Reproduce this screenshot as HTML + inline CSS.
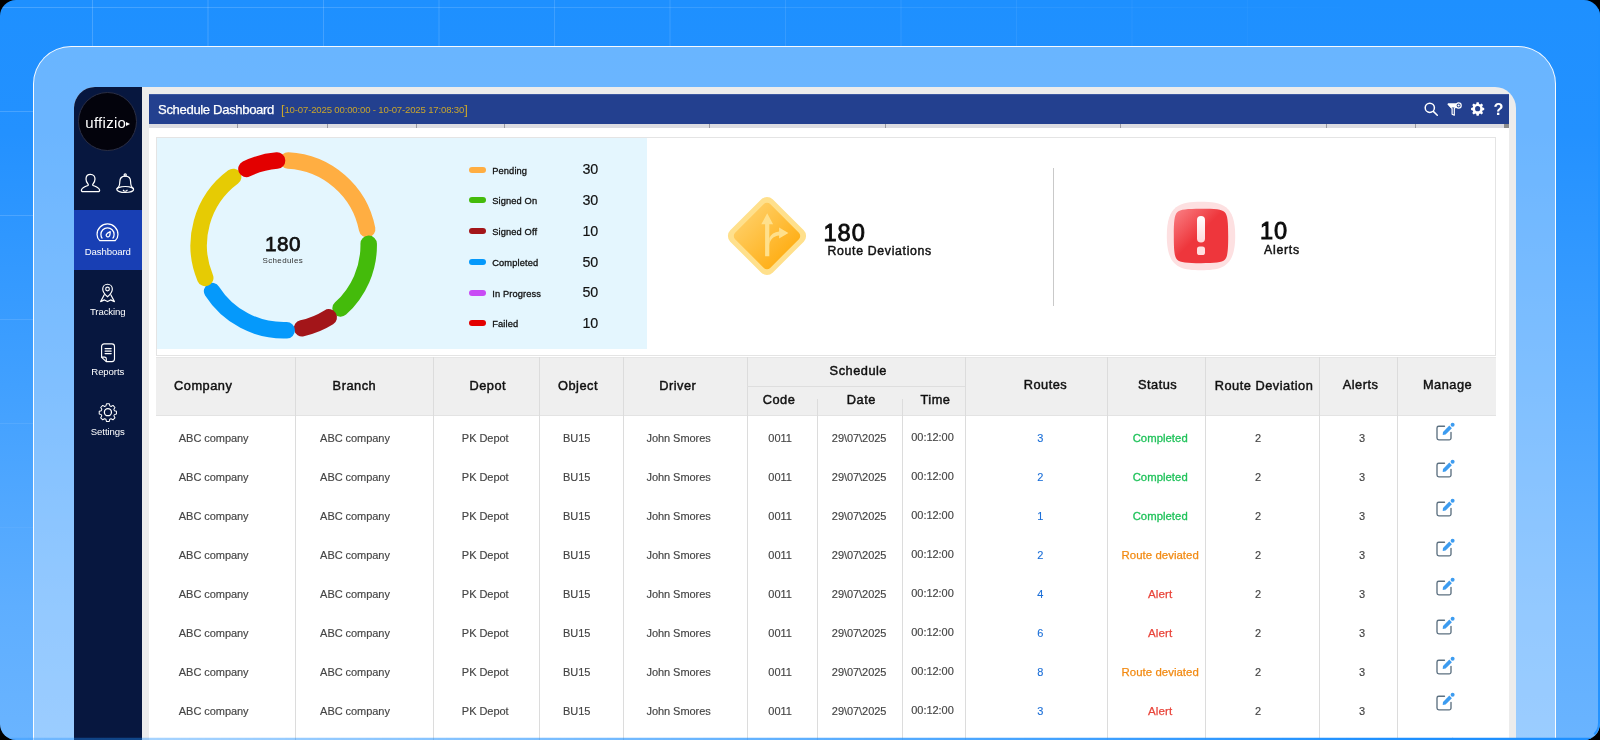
<!DOCTYPE html>
<html>
<head>
<meta charset="utf-8">
<title>Schedule Dashboard</title>
<style>
*{box-sizing:border-box;margin:0;padding:0}
html,body{width:1600px;height:740px;overflow:hidden;background:#000;font-family:"Liberation Sans",sans-serif;}
#stage{will-change:transform;position:absolute;left:0;top:0;width:1600px;height:740px;border-radius:16px;overflow:hidden;background:linear-gradient(180deg,#1e90ff 0%,#2391ff 18%,#3f9fff 50%,#5eaeff 82%,#6ab4ff 100%);}
#grid{position:absolute;left:0;top:0;width:1600px;height:740px;
  background-image:
    linear-gradient(90deg,rgba(255,255,255,.19) 0,rgba(255,255,255,.19) 1px,transparent 1px),
    linear-gradient(180deg,rgba(255,255,255,.19) 0,rgba(255,255,255,.19) 1px,transparent 1px);
  background-size:115.5px 104px;background-position:92px 7px;
  -webkit-mask-image:radial-gradient(ellipse 1400px 640px at 0 0,#000 0%,rgba(0,0,0,.75) 40%,transparent 100%);
  mask-image:radial-gradient(ellipse 1400px 640px at 0 0,#000 0%,rgba(0,0,0,.75) 40%,transparent 100%);}
#glass{position:absolute;left:33px;top:46px;width:1523px;height:760px;border-radius:38px;
  background:linear-gradient(rgba(255,255,255,.33),rgba(255,255,255,.33)),linear-gradient(180deg,#1e90ff 0%,#2391ff 18%,#3f9fff 50%,#5eaeff 82%,#6ab4ff 100%) -34.5px -47.5px / 1600px 740px no-repeat;
  border:1.5px solid rgba(255,255,255,.95);}
#botline{position:absolute;left:0;top:737px;width:1600px;height:3px;background:linear-gradient(90deg,rgba(30,144,255,.32) 0,rgba(30,144,255,1) 1390px);-webkit-mask-image:linear-gradient(180deg,rgba(0,0,0,.25) 0,rgba(0,0,0,.25) 1px,#000 1px);mask-image:linear-gradient(180deg,rgba(0,0,0,.25) 0,rgba(0,0,0,.25) 1px,#000 1px)}
#rightline{position:absolute;left:0;top:0;width:1600px;height:740px;border-right:2px solid rgba(30,144,255,.92);border-bottom:2px solid transparent;border-radius:0 0 17px 0}
#app{position:absolute;left:74px;top:87px;width:1442px;height:700px;border-radius:21px 21px 0 0;background:#ececec;overflow:hidden;}
#side{position:absolute;left:0;top:0;width:67.5px;height:700px;background:#07173f;}
#main{position:absolute;left:75px;top:7px;width:1360px;height:700px;background:#fff;}
#hdr{position:absolute;left:0;top:0;width:1359.6px;height:30px;background:#23408f;box-shadow:inset 0 1px 0 #3c57a0}
#strip{position:absolute;left:0;top:30px;width:1360px;height:4px;background:#dcdce1;}
#strip i{position:absolute;top:0;width:1px;height:4px;background:#9a9aa2;}
/* sidebar */
#logo{position:absolute;left:4.300px;top:5.300px;width:59px;height:59px;border-radius:50%;background:#03030c;border:1px solid #2b2f45;}
#logo span{position:absolute;left:6px;top:21.100px;color:#fff;font-size:15px;line-height:18px;letter-spacing:.28px;white-space:nowrap}
#logo span:after{content:"";position:absolute;left:100%;top:7.400px;margin-left:.1px;border-left:4.2px solid #fff;border-top:2.6px solid transparent;border-bottom:2.6px solid transparent}
.nav{position:absolute;left:0;width:67.5px;height:60px;}
.nav.on{background:#183fb4;}
.nav svg{position:absolute;left:22.2px;top:10.700px;width:23px;height:23px;overflow:visible}
.nav b{position:absolute;left:0;width:67.5px;top:35.5px;text-align:center;color:#fff;font-weight:normal;font-size:9.6px;letter-spacing:-.1px}
.sic{position:absolute;overflow:visible}
/* header */
#ttl{position:absolute;left:9px;top:8px;color:#fff;font-size:13.1px;line-height:16px;letter-spacing:-.35px;white-space:nowrap;-webkit-text-stroke:.25px #fff}
#rng{position:absolute;left:132px;top:7px;color:#c9a52c;font-size:9.6px;line-height:16px;white-space:nowrap;letter-spacing:-.17px}
#rng em{font-style:normal;font-size:13px;position:relative;top:.5px}
.hic{position:absolute;top:7px;width:16px;height:16px;overflow:visible}
/* kpi panel */
#kpi{position:absolute;left:7px;top:43px;width:1340px;height:219px;border:1px solid #e4e4e4;background:#fff;}
#kblue{position:absolute;left:0;top:0;width:490px;height:210.5px;background:#e4f6fe;}
#donut{position:absolute;left:0;top:0;width:491px;height:211px;overflow:visible}
.c180{position:absolute;left:75.700px;top:94.800px;width:100px;text-align:center;font-size:20.700px;line-height:22px;color:#111;-webkit-text-stroke:.75px #111;letter-spacing:.45px;text-indent:.45px}
.csch{position:absolute;left:75.800px;top:117.5px;width:100px;text-align:center;font-size:8px;line-height:10px;color:#333;letter-spacing:.35px}
.lg{position:absolute;left:312.400px;height:14px;width:160px}
.lg i{position:absolute;left:0;top:4px;width:16.5px;height:6px;border-radius:3px}
.lg span{position:absolute;left:22.800px;top:2px;font-size:9.300px;line-height:12px;color:#111;-webkit-text-stroke:.3px #111;white-space:nowrap;letter-spacing:.12px}
.lg b{position:absolute;left:113px;top:-1.300px;font-weight:normal;font-size:14.3px;line-height:16px;color:#111;-webkit-text-stroke:.15px #111}
.kn{position:absolute;font-size:23.600px;line-height:24px;color:#0b0b0b;-webkit-text-stroke:.85px #0b0b0b;letter-spacing:1px;white-space:nowrap}
.kl{position:absolute;font-size:12.300px;line-height:14px;color:#111;-webkit-text-stroke:.45px #111;letter-spacing:.67px;white-space:nowrap}
/* table */
#th{position:absolute;left:7px;top:263px;width:1340px;height:58.6px;background:#efefef;border-top:1px solid #e6e6e6;border-bottom:1px solid #e3e3e3}
.vl{position:absolute;width:1px;background:#dcdcdc}
.h{position:absolute;font-size:12.8px;line-height:16px;color:#111;-webkit-text-stroke:.45px #111;letter-spacing:.5px;white-space:nowrap;transform:translateX(-50%)}
.c{position:absolute;font-size:11px;line-height:14px;color:#444;white-space:nowrap;transform:translateX(-50%);-webkit-text-stroke:.15px #444;letter-spacing:-.05px}
.c.bl{color:#1b6fd8;-webkit-text-stroke:.12px #1b6fd8}
.c.gr{color:#1fc25a;-webkit-text-stroke:.3px #1fc25a;font-size:11.300px;letter-spacing:.05px}
.c.or{color:#f28a12;-webkit-text-stroke:.25px #f28a12;font-size:11.400px;letter-spacing:.05px}
.c.rd{color:#e9453b;-webkit-text-stroke:.25px #e9453b;font-size:11.600px;letter-spacing:.15px}
.ed{position:absolute;width:21px;height:21px;overflow:visible}
</style>
</head>
<body>
<div id="stage">
<div id="grid"></div>
<div id="glass"></div>
<div id="app">
<div id="side">
<div id="logo"><span>uffizio</span></div>
<svg class="sic" style="left:4.500px;top:85.400px;width:23px;height:23px" viewBox="0 0 22 22" fill="none" stroke="#fff" stroke-width="1.2" stroke-linecap="round" stroke-linejoin="round"><path d="M11 2.2c2.6 0 4.3 2 4.3 4.6 0 1.9-.8 3.6-1.9 4.6-.5.5-.4 1.3.3 1.6 2.6 1 5.6 2 6 4.3.1.9-.5 1.5-1.400 1.5H3.700c-.9 0-1.500-.6-1.400-1.500.4-2.300 3.400-3.300 6-4.300.7-.3.8-1.100.3-1.600-1.100-1-1.900-2.700-1.900-4.600C6.700 4.200 8.400 2.200 11 2.200z"/></svg>
<svg class="sic" style="left:39.5px;top:85px;width:22px;height:22px" viewBox="0 0 22 22" fill="none" stroke="#fff" stroke-width="1.2" stroke-linecap="round" stroke-linejoin="round"><circle cx="11.200" cy="3" r="1.100"/><path d="M3 16.600C5.100 15.200 5.800 12.800 5.800 9.800c0-3.500 2.200-5.700 5.400-5.700s5.400 2.200 5.400 5.700c0 3 .7 5.400 2.800 6.800"/><ellipse cx="11.200" cy="17.500" rx="8.400" ry="3"/><path d="M9.300 18.200a2 1.500 0 003.800 0"/></svg>
<div class="nav on" style="top:123px"><svg viewBox="0 0 22 22" fill="none" stroke="#fff" stroke-width="1.2" stroke-linecap="round" stroke-linejoin="round"><path d="M3.600 18.800C1.900 17.200 1 15.200 1 12.800 1 7.300 5.500 2.800 11 2.800s10 4.500 10 10c0 2.400-.9 4.400-2.600 6H3.600z"/><path d="M5.800 16.300c-.7-1-1.100-2.200-1.100-3.500 0-3.500 2.800-6.300 6.300-6.300s6.300 2.800 6.300 6.300c0 1.300-.4 2.500-1.100 3.500"/><path d="M13.600 10.200c-1.600.6-3.200 1.600-3.700 2.700-.4.900 0 1.900.9 2.200.9.400 1.800-.1 2.200-1 .4-1.100.6-2.600.6-3.900z"/></svg><b>Dashboard</b></div>
<div class="nav" style="top:183px"><svg viewBox="0 0 22 22" fill="none" stroke="#fff" stroke-width="1.2" stroke-linecap="round" stroke-linejoin="round"><g transform="translate(.9 1.500) scale(.92)"><path d="M11 14.800s-5-4.300-5-8.100C6 3.900 8.200 1.700 11 1.700s5 2.200 5 5c0 3.800-5 8.100-5 8.100z"/><circle cx="11" cy="6.700" r="1.900"/><path d="M7.600 12.600l-3.800 7.200 4-1.800 3.200 1.800 3.200-1.800 4 1.800-3.800-7.200"/></g></svg><b>Tracking</b></div>
<div class="nav" style="top:243px"><svg viewBox="0 0 22 22" fill="none" stroke="#fff" stroke-width="1.2" stroke-linecap="round" stroke-linejoin="round"><g transform="translate(1.300 1.100) scale(.92)"><path d="M7 1.800h8.200c1.500 0 2.600 1.100 2.600 2.600v13.200c0 1.500-1.100 2.600-2.600 2.600H9.300l-4.900-4.400V4.400c0-1.500 1.100-2.600 2.600-2.600z"/><path d="M4.600 15.600h3c1 0 1.700.7 1.700 1.700v2.700"/><path d="M8 6.700h6.400M8 9.300h6.400M8 11.900h6.400"/></g></svg><b>Reports</b></div>
<div class="nav" style="top:303px"><svg viewBox="0 0 22 22" fill="none" stroke="#fff" stroke-width="1.2" stroke-linecap="round" stroke-linejoin="round"><path d="M9.300 1.500h3.400l.6 2.500 1.500.7 2.300-1.300 2.300 2.500-1.300 2.200.6 1.600 2.500.7v3.300l-2.500.7-.6 1.500 1.300 2.300-2.400 2.400-2.300-1.300-1.500.6-.6 2.600H9.200l-.6-2.600-1.500-.6-2.300 1.300-2.400-2.400 1.300-2.300-.6-1.500-2.500-.7v-3.300l2.500-.7.600-1.600L2.400 5.900l2.400-2.500 2.300 1.300 1.500-.7z" transform="translate(2.600 1.500) scale(.8)"/><circle cx="11.400" cy="10.700" r="3.400"/></svg><b>Settings</b></div>
</div>
<div id="main">
<div id="hdr">
<div id="ttl">Schedule Dashboard</div>
<div id="rng"><em>[</em>10-07-2025 00:00:00 - 10-07-2025 17:08:30<em>]</em></div>
<svg class="hic" style="left:1273.800px;top:7.200px" viewBox="0 0 16 16" fill="none" stroke="#fff" stroke-width="1.5" stroke-linecap="round"><circle cx="6.800" cy="6.800" r="4.600"/><path d="M10.300 10.400l4 3.900"/></svg>
<svg class="hic" style="left:1297.800px" viewBox="0 0 16 16" fill="none" stroke="#fff" stroke-width="1.2" stroke-linejoin="round"><path d="M1.200 3.200h9.600L7.300 7.600v6.600l-2.200-1V7.600z"/><path d="M1.200 3.200h9.600L8.400 6H3.800z" fill="#fff"/><circle cx="11.600" cy="4.500" r="2.600" fill="#23408f"/><circle cx="11.600" cy="4.500" r="1.100" fill="#fff" stroke="none"/></svg>
<svg class="hic" style="left:1321.800px;top:8px;width:13.300px;height:13.300px" viewBox="0 0 16 16"><path fill="#fff" fill-rule="evenodd" d="M6.700.8h2.600l.4 2 1.300.6 1.700-1.200 1.800 1.900-1.100 1.700.5 1.300 2 .4v2.600l-2 .4-.5 1.300 1.100 1.700-1.800 1.900-1.700-1.200-1.300.600-.4 2H6.700l-.4-2L5 14.200l-1.700 1.200-1.800-1.900 1.100-1.700-.5-1.300-2-.4V7.500l2-.4.5-1.300-1.100-1.700 1.800-1.900L5 3.400l1.300-.6zM8 5.300a3.100 3.100 0 100 6.200 3.100 3.100 0 000-6.200z" transform="translate(0 -.4)"/></svg>
<div style="position:absolute;left:1343.500px;top:4.700px;width:12px;text-align:center;color:#fff;font-weight:bold;font-size:16.3px;line-height:20px">?</div>
</div>
<div id="kpi">
<div id="kblue"></div>
<svg id="donut" viewBox="0 0 491 211" fill="none" stroke-width="16.5" stroke-linecap="round"><path d="M131.15 22.42A85.0 85.0 0 0 1 210.14 91.08" stroke="#ffae42"/><path d="M211.69 105.82A85.0 85.0 0 0 1 183.58 170.47" stroke="#44bb0b"/><path d="M171.74 179.38A85.0 85.0 0 0 1 145.10 190.29" stroke="#a31519"/><path d="M129.67 192.25A85.0 85.0 0 0 1 55.09 153.10" stroke="#0599fb"/><path d="M48.23 139.97A85.0 85.0 0 0 1 76.14 38.97" stroke="#e6cb04"/><path d="M89.44 30.90A85.0 85.0 0 0 1 120.03 22.56" stroke="#e30000"/></svg>
<div class="c180">180</div><div class="csch">Schedules</div>
<div class="lg" style="top:24.70px"><i style="background:#ffae42"></i><span>Pending</span><b>30</b></div><div class="lg" style="top:55.45px"><i style="background:#44bb0b"></i><span>Signed On</span><b>30</b></div><div class="lg" style="top:86.20px"><i style="background:#a31519"></i><span>Signed Off</span><b>10</b></div><div class="lg" style="top:116.95px"><i style="background:#0599fb"></i><span>Completed</span><b>50</b></div><div class="lg" style="top:147.70px"><i style="background:#c84bf5"></i><span>In Progress</span><b>50</b></div><div class="lg" style="top:178.45px"><i style="background:#e30000"></i><span>Failed</span><b>10</b></div>
<svg style="position:absolute;left:569px;top:57px;width:82px;height:82px;overflow:visible" viewBox="0 0 82 82">
<defs><linearGradient id="gd" x1="0" y1=".5" x2="1" y2=".5"><stop offset="0" stop-color="#ffcb5c"/><stop offset="1" stop-color="#ffb01a"/></linearGradient></defs>
<rect x="11" y="11" width="60" height="60" rx="8" transform="rotate(45 41 41)" fill="#ffe08c"/>
<rect x="16.2" y="16.2" width="49.6" height="49.600" rx="4.5" transform="rotate(45 41 41)" fill="url(#gd)"/>
<g transform="translate(.2 -1.200)"><path d="M38.900 62.500V30.500h-3.800L41 19.500l5.900 11h-3.800V62.500z" fill="#ffe08c"/>
<path d="M42.600 44.300c1.700-3.900 5-6.300 9.800-6.700v-3.800l9.300 5.500-9.300 5.500v-3.200c-5.400.4-9.700 4.200-9.800 10.600z" fill="#ffe08c" transform="translate(.5 0)"/></g>
</svg>
<div class="kn" style="left:666.500px;top:82.600px">180</div>
<div class="kl" style="left:670.5px;top:105.500px">Route Deviations</div>
<div style="position:absolute;left:896px;top:30px;width:1px;height:138px;background:#c9c9c9"></div>
<svg style="position:absolute;left:1009px;top:62.800px;width:70px;height:70px;overflow:visible" viewBox="0 0 70 70">
<defs><linearGradient id="gr" x1="0" y1="0" x2="1" y2="1"><stop offset="0" stop-color="#fa8286"/><stop offset=".47" stop-color="#ee363c"/><stop offset="1" stop-color="#ee363c"/></linearGradient>
<linearGradient id="gw" x1="0" y1="0" x2="0" y2="1"><stop offset="0" stop-color="#fff"/><stop offset="1" stop-color="#ffd9db"/></linearGradient>
<filter id="bl" x="-10%" y="-10%" width="120%" height="120%"><feGaussianBlur stdDeviation=".7"/></filter></defs>
<path d="M35 .8C56 .8 69.200 4 69.200 35S56 69.200 35 69.200.8 66 .8 35 14 .8 35 .8z" fill="#fde0e1" filter="url(#bl)"/>
<path d="M35 7.800C49 7.800 56 8.300 58.800 11.200S62.200 21 62.200 35 61.700 56 58.800 58.800 49 62.200 35 62.200 14 61.700 11.200 58.800 7.800 49 7.800 35 8.300 14 11.200 11.200 21 7.800 35 7.800z" fill="url(#gr)"/>
<rect x="31" y="15" width="8" height="26.500" rx="4" fill="url(#gw)"/>
<rect x="31" y="45.500" width="8" height="8.500" rx="2.600" fill="#ffdfe0"/>
</svg>
<div class="kn" style="left:1103px;top:80.900px">10</div>
<div class="kl" style="left:1107px;top:104.600px;letter-spacing:.75px">Alerts</div>
</div>
<div id="th"></div>
<div class="vl" style="left:145.8px;top:263px;height:460px"></div><div class="vl" style="left:283.9px;top:263px;height:460px"></div><div class="vl" style="left:389.9px;top:263px;height:460px"></div><div class="vl" style="left:473.8px;top:263px;height:460px"></div><div class="vl" style="left:597.7px;top:263px;height:460px"></div><div class="vl" style="left:815.8px;top:263px;height:460px"></div><div class="vl" style="left:958.0px;top:263px;height:460px"></div><div class="vl" style="left:1055.5px;top:263px;height:460px"></div><div class="vl" style="left:1170.2px;top:263px;height:460px"></div><div class="vl" style="left:1247.7px;top:263px;height:460px"></div><div class="vl" style="left:668.0px;top:305px;height:420px"></div><div class="vl" style="left:753.0px;top:305px;height:420px"></div><div class="vl" style="left:598.2px;top:292px;width:218px;height:1px;background:#dedede"></div>
<div class="h" style="left:54.2px;top:283.8px">Company</div><div class="h" style="left:205.4px;top:283.8px">Branch</div><div class="h" style="left:338.8px;top:283.8px">Depot</div><div class="h" style="left:429.0px;top:283.8px">Object</div><div class="h" style="left:528.8px;top:283.8px">Driver</div><div class="h" style="left:709.3px;top:268.8px">Schedule</div><div class="h" style="left:630.0px;top:297.9px">Code</div><div class="h" style="left:712.3px;top:297.9px">Date</div><div class="h" style="left:786.5px;top:297.9px">Time</div><div class="h" style="left:896.5px;top:282.9px">Routes</div><div class="h" style="left:1008.6px;top:282.9px">Status</div><div class="h" style="left:1115.0px;top:283.5px">Route Deviation</div><div class="h" style="left:1211.5px;top:282.9px">Alerts</div><div class="h" style="left:1298.5px;top:282.9px">Manage</div>
<div class="c " style="left:64.7px;top:337.2px">ABC company</div><div class="c " style="left:206.0px;top:337.2px">ABC company</div><div class="c " style="left:336.2px;top:337.2px">PK Depot</div><div class="c " style="left:427.7px;top:337.2px">BU15</div><div class="c " style="left:529.6px;top:337.2px">John Smores</div><div class="c " style="left:631.1px;top:337.2px">0011</div><div class="c " style="left:710.1px;top:337.2px">29\07\2025</div><div class="c " style="left:783.5px;top:336.2px">00:12:00</div><div class="c bl" style="left:891.3px;top:337.2px">3</div><div class="c gr" style="left:1011.2px;top:337.2px">Completed</div><div class="c " style="left:1109.0px;top:337.2px">2</div><div class="c " style="left:1213.0px;top:337.2px">3</div><svg class="ed" style="left:1287.0px;top:328.0px" viewBox="0 0 21 21" fill="none"><path d="M8.500 4.200H2.800a1.800 1.800 0 00-1.800 1.800V16.100a1.800 1.800 0 001.800 1.800H13.200a1.800 1.800 0 001.800-1.800V10.300" stroke="#5c7080" stroke-width="1.350" stroke-linecap="round"/><path d="M6.700 12.900L7 9.900 13.300 3.600 15.900 6.200 9.600 12.500z" fill="#3d9cf0"/><circle cx="16.600" cy="2.700" r="2" fill="#3d9cf0"/></svg>
<div class="c " style="left:64.7px;top:376.2px">ABC company</div><div class="c " style="left:206.0px;top:376.2px">ABC company</div><div class="c " style="left:336.2px;top:376.2px">PK Depot</div><div class="c " style="left:427.7px;top:376.2px">BU15</div><div class="c " style="left:529.6px;top:376.2px">John Smores</div><div class="c " style="left:631.1px;top:376.2px">0011</div><div class="c " style="left:710.1px;top:376.2px">29\07\2025</div><div class="c " style="left:783.5px;top:375.2px">00:12:00</div><div class="c bl" style="left:891.3px;top:376.2px">2</div><div class="c gr" style="left:1011.2px;top:376.2px">Completed</div><div class="c " style="left:1109.0px;top:376.2px">2</div><div class="c " style="left:1213.0px;top:376.2px">3</div><svg class="ed" style="left:1287.0px;top:365.0px" viewBox="0 0 21 21" fill="none"><path d="M8.500 4.200H2.800a1.800 1.800 0 00-1.800 1.800V16.100a1.800 1.800 0 001.800 1.800H13.200a1.800 1.800 0 001.800-1.800V10.300" stroke="#5c7080" stroke-width="1.350" stroke-linecap="round"/><path d="M6.700 12.900L7 9.900 13.300 3.600 15.900 6.200 9.600 12.500z" fill="#3d9cf0"/><circle cx="16.600" cy="2.700" r="2" fill="#3d9cf0"/></svg>
<div class="c " style="left:64.7px;top:415.2px">ABC company</div><div class="c " style="left:206.0px;top:415.2px">ABC company</div><div class="c " style="left:336.2px;top:415.2px">PK Depot</div><div class="c " style="left:427.7px;top:415.2px">BU15</div><div class="c " style="left:529.6px;top:415.2px">John Smores</div><div class="c " style="left:631.1px;top:415.2px">0011</div><div class="c " style="left:710.1px;top:415.2px">29\07\2025</div><div class="c " style="left:783.5px;top:414.2px">00:12:00</div><div class="c bl" style="left:891.3px;top:415.2px">1</div><div class="c gr" style="left:1011.2px;top:415.2px">Completed</div><div class="c " style="left:1109.0px;top:415.2px">2</div><div class="c " style="left:1213.0px;top:415.2px">3</div><svg class="ed" style="left:1287.0px;top:404.0px" viewBox="0 0 21 21" fill="none"><path d="M8.500 4.200H2.800a1.800 1.800 0 00-1.800 1.800V16.100a1.800 1.800 0 001.800 1.800H13.200a1.800 1.800 0 001.800-1.800V10.300" stroke="#5c7080" stroke-width="1.350" stroke-linecap="round"/><path d="M6.700 12.900L7 9.900 13.300 3.600 15.900 6.200 9.600 12.500z" fill="#3d9cf0"/><circle cx="16.600" cy="2.700" r="2" fill="#3d9cf0"/></svg>
<div class="c " style="left:64.7px;top:454.2px">ABC company</div><div class="c " style="left:206.0px;top:454.2px">ABC company</div><div class="c " style="left:336.2px;top:454.2px">PK Depot</div><div class="c " style="left:427.7px;top:454.2px">BU15</div><div class="c " style="left:529.6px;top:454.2px">John Smores</div><div class="c " style="left:631.1px;top:454.2px">0011</div><div class="c " style="left:710.1px;top:454.2px">29\07\2025</div><div class="c " style="left:783.5px;top:453.2px">00:12:00</div><div class="c bl" style="left:891.3px;top:454.2px">2</div><div class="c or" style="left:1011.2px;top:454.2px">Route deviated</div><div class="c " style="left:1109.0px;top:454.2px">2</div><div class="c " style="left:1213.0px;top:454.2px">3</div><svg class="ed" style="left:1287.0px;top:444.0px" viewBox="0 0 21 21" fill="none"><path d="M8.500 4.200H2.800a1.800 1.800 0 00-1.800 1.800V16.100a1.800 1.800 0 001.800 1.800H13.200a1.800 1.800 0 001.800-1.800V10.300" stroke="#5c7080" stroke-width="1.350" stroke-linecap="round"/><path d="M6.700 12.900L7 9.900 13.300 3.600 15.900 6.200 9.600 12.500z" fill="#3d9cf0"/><circle cx="16.600" cy="2.700" r="2" fill="#3d9cf0"/></svg>
<div class="c " style="left:64.7px;top:493.2px">ABC company</div><div class="c " style="left:206.0px;top:493.2px">ABC company</div><div class="c " style="left:336.2px;top:493.2px">PK Depot</div><div class="c " style="left:427.7px;top:493.2px">BU15</div><div class="c " style="left:529.6px;top:493.2px">John Smores</div><div class="c " style="left:631.1px;top:493.2px">0011</div><div class="c " style="left:710.1px;top:493.2px">29\07\2025</div><div class="c " style="left:783.5px;top:492.2px">00:12:00</div><div class="c bl" style="left:891.3px;top:493.2px">4</div><div class="c rd" style="left:1011.2px;top:493.2px">Alert</div><div class="c " style="left:1109.0px;top:493.2px">2</div><div class="c " style="left:1213.0px;top:493.2px">3</div><svg class="ed" style="left:1287.0px;top:483.0px" viewBox="0 0 21 21" fill="none"><path d="M8.500 4.200H2.800a1.800 1.800 0 00-1.800 1.800V16.100a1.800 1.800 0 001.800 1.800H13.200a1.800 1.800 0 001.800-1.800V10.300" stroke="#5c7080" stroke-width="1.350" stroke-linecap="round"/><path d="M6.700 12.900L7 9.900 13.300 3.600 15.900 6.200 9.600 12.500z" fill="#3d9cf0"/><circle cx="16.600" cy="2.700" r="2" fill="#3d9cf0"/></svg>
<div class="c " style="left:64.7px;top:532.2px">ABC company</div><div class="c " style="left:206.0px;top:532.2px">ABC company</div><div class="c " style="left:336.2px;top:532.2px">PK Depot</div><div class="c " style="left:427.7px;top:532.2px">BU15</div><div class="c " style="left:529.6px;top:532.2px">John Smores</div><div class="c " style="left:631.1px;top:532.2px">0011</div><div class="c " style="left:710.1px;top:532.2px">29\07\2025</div><div class="c " style="left:783.5px;top:531.2px">00:12:00</div><div class="c bl" style="left:891.3px;top:532.2px">6</div><div class="c rd" style="left:1011.2px;top:532.2px">Alert</div><div class="c " style="left:1109.0px;top:532.2px">2</div><div class="c " style="left:1213.0px;top:532.2px">3</div><svg class="ed" style="left:1287.0px;top:522.0px" viewBox="0 0 21 21" fill="none"><path d="M8.500 4.200H2.800a1.800 1.800 0 00-1.800 1.800V16.100a1.800 1.800 0 001.800 1.800H13.200a1.800 1.800 0 001.800-1.800V10.300" stroke="#5c7080" stroke-width="1.350" stroke-linecap="round"/><path d="M6.700 12.900L7 9.900 13.300 3.600 15.900 6.200 9.600 12.500z" fill="#3d9cf0"/><circle cx="16.600" cy="2.700" r="2" fill="#3d9cf0"/></svg>
<div class="c " style="left:64.7px;top:571.2px">ABC company</div><div class="c " style="left:206.0px;top:571.2px">ABC company</div><div class="c " style="left:336.2px;top:571.2px">PK Depot</div><div class="c " style="left:427.7px;top:571.2px">BU15</div><div class="c " style="left:529.6px;top:571.2px">John Smores</div><div class="c " style="left:631.1px;top:571.2px">0011</div><div class="c " style="left:710.1px;top:571.2px">29\07\2025</div><div class="c " style="left:783.5px;top:570.2px">00:12:00</div><div class="c bl" style="left:891.3px;top:571.2px">8</div><div class="c or" style="left:1011.2px;top:571.2px">Route deviated</div><div class="c " style="left:1109.0px;top:571.2px">2</div><div class="c " style="left:1213.0px;top:571.2px">3</div><svg class="ed" style="left:1287.0px;top:562.0px" viewBox="0 0 21 21" fill="none"><path d="M8.500 4.200H2.800a1.800 1.800 0 00-1.800 1.800V16.100a1.800 1.800 0 001.800 1.800H13.200a1.800 1.800 0 001.800-1.800V10.300" stroke="#5c7080" stroke-width="1.350" stroke-linecap="round"/><path d="M6.700 12.900L7 9.900 13.300 3.600 15.900 6.200 9.600 12.500z" fill="#3d9cf0"/><circle cx="16.600" cy="2.700" r="2" fill="#3d9cf0"/></svg>
<div class="c " style="left:64.7px;top:610.2px">ABC company</div><div class="c " style="left:206.0px;top:610.2px">ABC company</div><div class="c " style="left:336.2px;top:610.2px">PK Depot</div><div class="c " style="left:427.7px;top:610.2px">BU15</div><div class="c " style="left:529.6px;top:610.2px">John Smores</div><div class="c " style="left:631.1px;top:610.2px">0011</div><div class="c " style="left:710.1px;top:610.2px">29\07\2025</div><div class="c " style="left:783.5px;top:609.2px">00:12:00</div><div class="c bl" style="left:891.3px;top:610.2px">3</div><div class="c rd" style="left:1011.2px;top:610.2px">Alert</div><div class="c " style="left:1109.0px;top:610.2px">2</div><div class="c " style="left:1213.0px;top:610.2px">3</div><svg class="ed" style="left:1287.0px;top:598.0px" viewBox="0 0 21 21" fill="none"><path d="M8.500 4.200H2.800a1.800 1.800 0 00-1.800 1.800V16.100a1.800 1.800 0 001.800 1.800H13.200a1.800 1.800 0 001.800-1.800V10.300" stroke="#5c7080" stroke-width="1.350" stroke-linecap="round"/><path d="M6.700 12.900L7 9.900 13.300 3.600 15.900 6.200 9.600 12.500z" fill="#3d9cf0"/><circle cx="16.600" cy="2.700" r="2" fill="#3d9cf0"/></svg>
<svg class="ed" style="left:1287.0px;top:642.5px" viewBox="0 0 21 21" fill="none"><path d="M8.500 4.200H2.800a1.800 1.800 0 00-1.800 1.800V16.100a1.800 1.800 0 001.800 1.800H13.200a1.800 1.800 0 001.800-1.800V10.300" stroke="#5c7080" stroke-width="1.350" stroke-linecap="round"/><path d="M6.700 12.900L7 9.900 13.300 3.600 15.900 6.200 9.600 12.500z" fill="#3d9cf0"/><circle cx="16.600" cy="2.700" r="2" fill="#3d9cf0"/></svg>

<div id="strip"><i style="left:88px"></i><i style="left:177.5px"></i><i style="left:266.5px"></i><i style="left:355px"></i><i style="left:560px"></i><i style="left:736px"></i><i style="left:971px"></i><i style="left:1176.5px"></i><i style="left:1266px"></i><i style="left:1355px;width:4.600px;background:#8d8d8d"></i></div>
</div>
</div>
<div id="botline"></div><div id="rightline"></div>
</div>
</body>
</html>
